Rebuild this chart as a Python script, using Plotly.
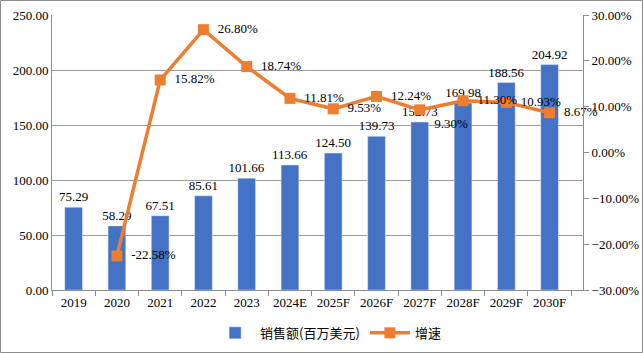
import plotly.graph_objects as go

categories = ["2019", "2020", "2021", "2022", "2023", "2024E", "2025F", "2026F", "2027F", "2028F", "2029F", "2030F"]
sales = [75.29, 58.29, 67.51, 85.61, 101.66, 113.66, 124.50, 139.73, 152.73, 169.98, 188.56, 204.92]
growth_cats = categories[1:]
growth = [-0.2258, 0.1582, 0.2680, 0.1874, 0.1181, 0.0953, 0.1224, 0.0930, 0.1130, 0.1093, 0.0867]
growth_pos = ["middle right"] * 7 + ["bottom right"] + ["middle right"] * 3

W, H = 643, 353
L, R, T, B = 52, 60, 15, 63
serif = "Liberation Serif"
cjk = "Noto Sans CJK SC"

fig = go.Figure()
fig.add_trace(go.Bar(
    x=categories, y=sales, name="销售额(百万美元)",
    marker_color="#4472C4", text=[f"{v:.2f}" for v in sales],
    textposition="outside", cliponaxis=False, constraintext="none",
    textfont=dict(family=serif, size=13, color="#000"),
))
fig.add_trace(go.Scatter(
    x=growth_cats, y=growth, name="增速", yaxis="y2",
    mode="lines+markers+text",
    line=dict(color="#ED7D31", width=3.5),
    marker=dict(symbol="square", size=11, color="#ED7D31"),
    text=["  " + f"{v*100:.2f}%" for v in growth],
    textposition=growth_pos, cliponaxis=False,
    textfont=dict(family=serif, size=13, color="#000"),
))

pw = W - L - R
ph = H - T - B
fig.add_shape(type="rect", xref="paper", yref="paper",
              x0=(0.5 - L) / pw, x1=(W - 0.5 - L) / pw,
              y0=-(H - 0.5 - T - ph) / ph, y1=1 + (T - 0.5) / ph,
              line=dict(color="#8c8c8c", width=1), layer="below")

fig.update_layout(
    width=W, height=H,
    margin=dict(l=L, r=R, t=T, b=B, autoexpand=False),
    plot_bgcolor="white", paper_bgcolor="white",
    bargap=0.59,
    font=dict(family=serif, size=13, color="#000"),
    xaxis=dict(type="category", showline=True, linecolor="#8c8c8c",
               ticks="outside", tickson="boundaries", ticklen=5, tickcolor="#8c8c8c",
               showgrid=False, tickangle=0, automargin=False,
               tickfont=dict(family=serif, size=13)),
    yaxis=dict(range=[0, 250], dtick=50, tickformat=".2f", automargin=False,
               showline=True, linecolor="#8c8c8c", gridcolor="#9a9a9a",
               zeroline=False, tickfont=dict(family=serif, size=13)),
    yaxis2=dict(range=[-0.3, 0.3], dtick=0.1, tickformat=".2%", automargin=False,
                overlaying="y", side="right", showgrid=False, zeroline=False,
                showline=True, linecolor="#8c8c8c", ticks="outside", ticklen=5,
                tickcolor="#8c8c8c", tickfont=dict(family=serif, size=13)),
    legend=dict(orientation="h", x=0.52, xanchor="center",
                yref="container", y=0.057, yanchor="middle",
                font=dict(family=cjk, size=13), itemwidth=40, tracegroupgap=0),
    showlegend=True,
)

fig.write_html("out.html")
